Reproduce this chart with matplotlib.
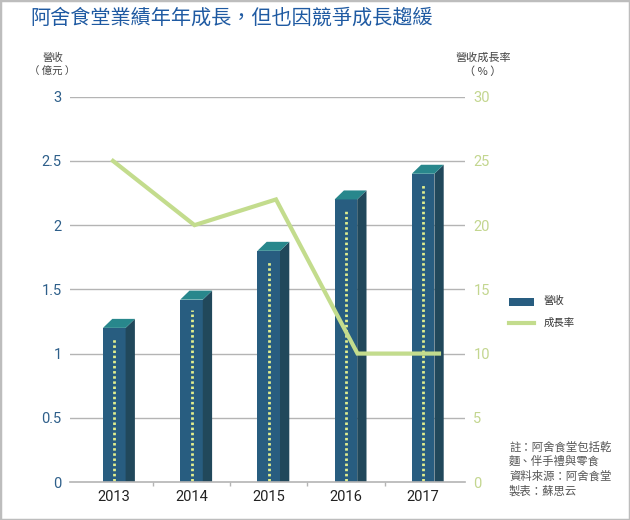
import matplotlib
matplotlib.use('Agg')
import matplotlib.pyplot as plt
from matplotlib.patches import Polygon, Rectangle
from matplotlib.lines import Line2D

plt.rcParams['font.family'] = ['Noto Sans CJK TC', 'DejaVu Sans']

# ---- data ----
years = ['2013', '2014', '2015', '2016', '2017']
revenue = [1.2, 1.42, 1.8, 2.2, 2.4]          # 億元
growth = [25, 20, 22, 10, 10]                 # %
left_ticks = [0, 0.5, 1, 1.5, 2, 2.5, 3]
left_labels = ['0', '0.5', '1', '1.5', '2', '2.5', '3']
right_ticks = [0, 5, 10, 15, 20, 25, 30]
title = '阿舍食堂業績年年成長，但也因競爭成長趨緩'
legend_labels = ['營收', '成長率']
notes = ['註：阿舍食堂包括乾', '麵、伴手禮與零食', '資料來源：阿舍食堂', '製表：蘇思云']

# ---- style ----
FW, FH = 630, 520
front_c = '#285d80'
side_c = '#21485b'
top_c = '#28878c'
dot_c = '#e3ef8e'
line_c = '#c3dc8d'
grid_c = '#b4b4b4'
left_lab_c = '#2e5f8a'
right_lab_c = '#c3d68f'
num_font = ['Roboto', 'DejaVu Sans']

fig = plt.figure(figsize=(FW / 100, FH / 100), dpi=100)
axL, axR, axB, axT = 70, 465, 482, 96.7
rect = [axL / FW, 1 - axB / FH, (axR - axL) / FW, (axB - axT) / FH]
ax = fig.add_axes(rect)
ax2 = fig.add_axes(rect, frameon=False)

ppx = 77.2  # px per category (bars)
xa = -(114.3 - axL) / ppx
ax.set_xlim(xa, xa + (axR - axL) / ppx)
ax.set_ylim(0, 3)
ppy = (axB - axT) / 3

bw = 22.6 / ppx
dx = 9.3 / ppx
dy = 9 / ppy

for y in left_ticks[1:]:
    ax.axhline(y, color=grid_c, lw=1, zorder=1)

xs = list(range(len(years)))
ax.bar(xs, revenue, width=bw, color=front_c, zorder=3, linewidth=0)
for x, v in zip(xs, revenue):
    r = x + bw / 2
    l = x - bw / 2
    ax.add_patch(Polygon([(r, 0), (r, v), (r + dx, v + dy), (r + dx, 0)],
                         closed=True, fc=side_c, ec='none', zorder=3))
    ax.add_patch(Polygon([(l, v), (r, v), (r + dx, v + dy), (l + dx, v + dy)],
                         closed=True, fc=top_c, ec='none', zorder=3))
    ax.plot([x, x], [0.01, v - 10 / ppy], color=dot_c, lw=2.0,
            ls=(0, (0.9, 0.95)), zorder=4, solid_capstyle='butt')

for s in ['top', 'right', 'left']:
    ax.spines[s].set_visible(False)
ax.spines['bottom'].set_color(grid_c)
ax.spines['bottom'].set_linewidth(1.2)
ax.spines['bottom'].set_zorder(5)
ax.set_xticks(xs)
ax.set_xticklabels(years, fontsize=10.5, color='#222222', family=num_font)
ax.set_xticks([x + 0.5 for x in xs[:-1]], minor=True)
ax.tick_params(axis='x', which='major', length=0, pad=6)
ax.tick_params(axis='x', which='minor', length=3, color=grid_c, width=1)
ax.set_yticks(left_ticks)
ax.set_yticklabels(left_labels, fontsize=10.5, color=left_lab_c, family=num_font)
ax.tick_params(axis='y', length=0, pad=6)

# growth line on own axes
ppx2 = 81.5
xb = -(113 - axL) / ppx2
ax2.set_xlim(xb, xb + (axR - axL) / ppx2)
ax2.set_ylim(0, 30)
ax2.plot(xs, growth, color=line_c, lw=3, solid_joinstyle='miter', zorder=6)
ax2.set_xticks([])
ax2.yaxis.tick_right()
ax2.set_yticks(right_ticks)
ax2.set_yticklabels([str(t) for t in right_ticks], fontsize=10.5, color=right_lab_c,
                    family=num_font)
ax2.tick_params(axis='y', length=0, pad=6)

def fx(px):
    return px / FW

def fy(py):
    return 1 - py / FH

# title
fig.text(fx(30), fy(18), title, fontsize=14.5, color='#1f5aa2', ha='left', va='center')

# axis unit labels
fig.text(fx(53), fy(58), '營收', fontsize=7.5, color='#444444', ha='center', va='center')
fig.text(fx(52), fy(72), '（ 億元 ）', fontsize=7.5, color='#444444', ha='center', va='center')
fig.text(fx(483), fy(58), '營收成長率', fontsize=8, color='#444444', ha='center', va='center')
fig.text(fx(483), fy(72), '（ % ）', fontsize=8, color='#444444', ha='center', va='center')

# legend
fig.add_artist(Rectangle((fx(509), fy(306)), 25 / FW, 8 / FH, transform=fig.transFigure,
                         fc=front_c, ec='none'))
fig.add_artist(Line2D([fx(509), fx(534)], [fy(323), fy(323)], transform=fig.transFigure,
                      color=line_c, lw=3))
fig.text(fx(544), fy(301), legend_labels[0], fontsize=7.5, color='#333333', va='center')
fig.text(fx(544), fy(323), legend_labels[1], fontsize=7.5, color='#333333', va='center')

# notes
for i, t in enumerate(notes):
    fig.text(fx(509), fy(447 + i * 14.5), t, fontsize=8.2, color='#555555', va='center')

# border
fig.add_artist(Rectangle((0, 0), 1, 1, transform=fig.transFigure, fill=False,
                         ec='#bdbdbd', lw=2.5))

fig.savefig('out.png', dpi=100)
